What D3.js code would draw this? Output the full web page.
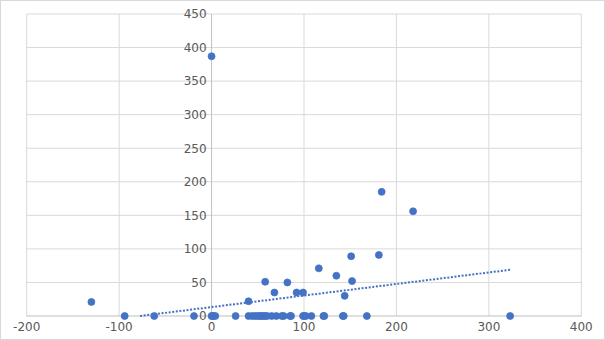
<!DOCTYPE html>
<html>
<head>
<meta charset="utf-8">
<script src="https://cdn.jsdelivr.net/npm/d3@7"></script>
<style>
  body { margin: 0; background: #fff; }
  text { font-family: "DejaVu Sans", sans-serif; }
</style>
</head>
<body>
<svg id="chart"></svg>
<script>
// points
const xValues = [-94, -62, -19, 0, 1, 2, 4, 26, 40, 44, 47, 50, 52, 54, 56, 58, 60, 65, 70, 76, 78, 85, 86,
                 99, 100, 102, 108, 121, 122, 142, 143, 168, 323,
                 -130, 0, 40, 58, 68, 82, 92, 99, 116, 135, 144, 151, 152, 181, 184, 218];
const yValues = [0, 0, 0, 0, 0, 0, 0, 0, 0, 0, 0, 0, 0, 0, 0, 0, 0, 0, 0, 0, 0, 0, 0,
                 0, 0, 0, 0, 0, 0, 0, 0, 0, 0,
                 21, 387, 22, 51, 35, 50, 35, 35, 71, 60, 30, 89, 52, 91, 185, 156];

// linear trend line as drawn in the picture
const trendSlope = 0.172;
const trendIntercept = 13.3;

const xTicks = [-200, -100, 0, 100, 200, 300, 400];
const yTicks = [0, 50, 100, 150, 200, 250, 300, 350, 400, 450];

const width = 605, height = 340;
const margin = { top: 14, right: 23.7, bottom: 24, left: 26.7 };

const svg = d3.select('#chart')
    .attr('width', width)
    .attr('height', height);

// outer chart border
svg.append('rect')
    .attr('x', 0.5).attr('y', 0.5)
    .attr('width', width - 1).attr('height', height - 1)
    .attr('fill', '#fff')
    .attr('stroke', '#d9d9d9');

const x = d3.scaleLinear()
    .domain([-200, 400])
    .range([margin.left, width - margin.right]);

const y = d3.scaleLinear()
    .domain([0, 450])
    .range([height - margin.bottom, margin.top]);

const grid = svg.append('g');

// vertical gridlines
grid.selectAll('.vgrid')
    .data(xTicks.filter(d => d !== 0))
    .enter().append('line')
    .attr('x1', d => x(d)).attr('x2', d => x(d))
    .attr('y1', y(0)).attr('y2', y(450))
    .attr('stroke', '#d9d9d9');

// horizontal gridlines
grid.selectAll('.hgrid')
    .data(yTicks.filter(d => d !== 0))
    .enter().append('line')
    .attr('x1', x(-200)).attr('x2', x(400))
    .attr('y1', d => y(d)).attr('y2', d => y(d))
    .attr('stroke', '#d9d9d9');

// axis lines
svg.append('line')
    .attr('x1', x(-200)).attr('x2', x(400))
    .attr('y1', y(0)).attr('y2', y(0))
    .attr('stroke', '#bfbfbf');
svg.append('line')
    .attr('x1', x(0)).attr('x2', x(0))
    .attr('y1', y(0)).attr('y2', y(450))
    .attr('stroke', '#bfbfbf');

// y tick labels next to the x=0 axis
svg.selectAll('.ylab')
    .data(yTicks)
    .enter().append('text')
    .attr('x', x(0) - 5)
    .attr('y', d => y(d))
    .attr('dy', '0.36em')
    .attr('text-anchor', 'end')
    .attr('font-size', 12)
    .attr('fill', '#595959')
    .text(d => d);

// x tick labels along the bottom
svg.selectAll('.xlab')
    .data(xTicks)
    .enter().append('text')
    .attr('x', d => x(d))
    .attr('y', y(0) + 15)
    .attr('text-anchor', 'middle')
    .attr('font-size', 12)
    .attr('fill', '#595959')
    .text(d => d);

const points = xValues.map((d, i) => ({ x: d, y: yValues[i] }));

// trend line, clipped to the plot area
const xMin = d3.min(xValues), xMax = d3.max(xValues);
const trendStart = Math.max(xMin, -trendIntercept / trendSlope);
svg.append('line')
    .attr('x1', x(trendStart)).attr('y1', y(trendIntercept + trendSlope * trendStart))
    .attr('x2', x(xMax)).attr('y2', y(trendIntercept + trendSlope * xMax))
    .attr('stroke', '#4472c4')
    .attr('stroke-width', 2)
    .attr('stroke-dasharray', '2,1.6');

svg.append('g')
    .selectAll('circle')
    .data(points)
    .enter().append('circle')
    .attr('cx', d => x(d.x))
    .attr('cy', d => y(d.y))
    .attr('r', 3.5)
    .attr('fill', '#4472c4')
    .attr('stroke', '#4472c4')
    .attr('stroke-width', 0.75);
</script>
</body>
</html>
